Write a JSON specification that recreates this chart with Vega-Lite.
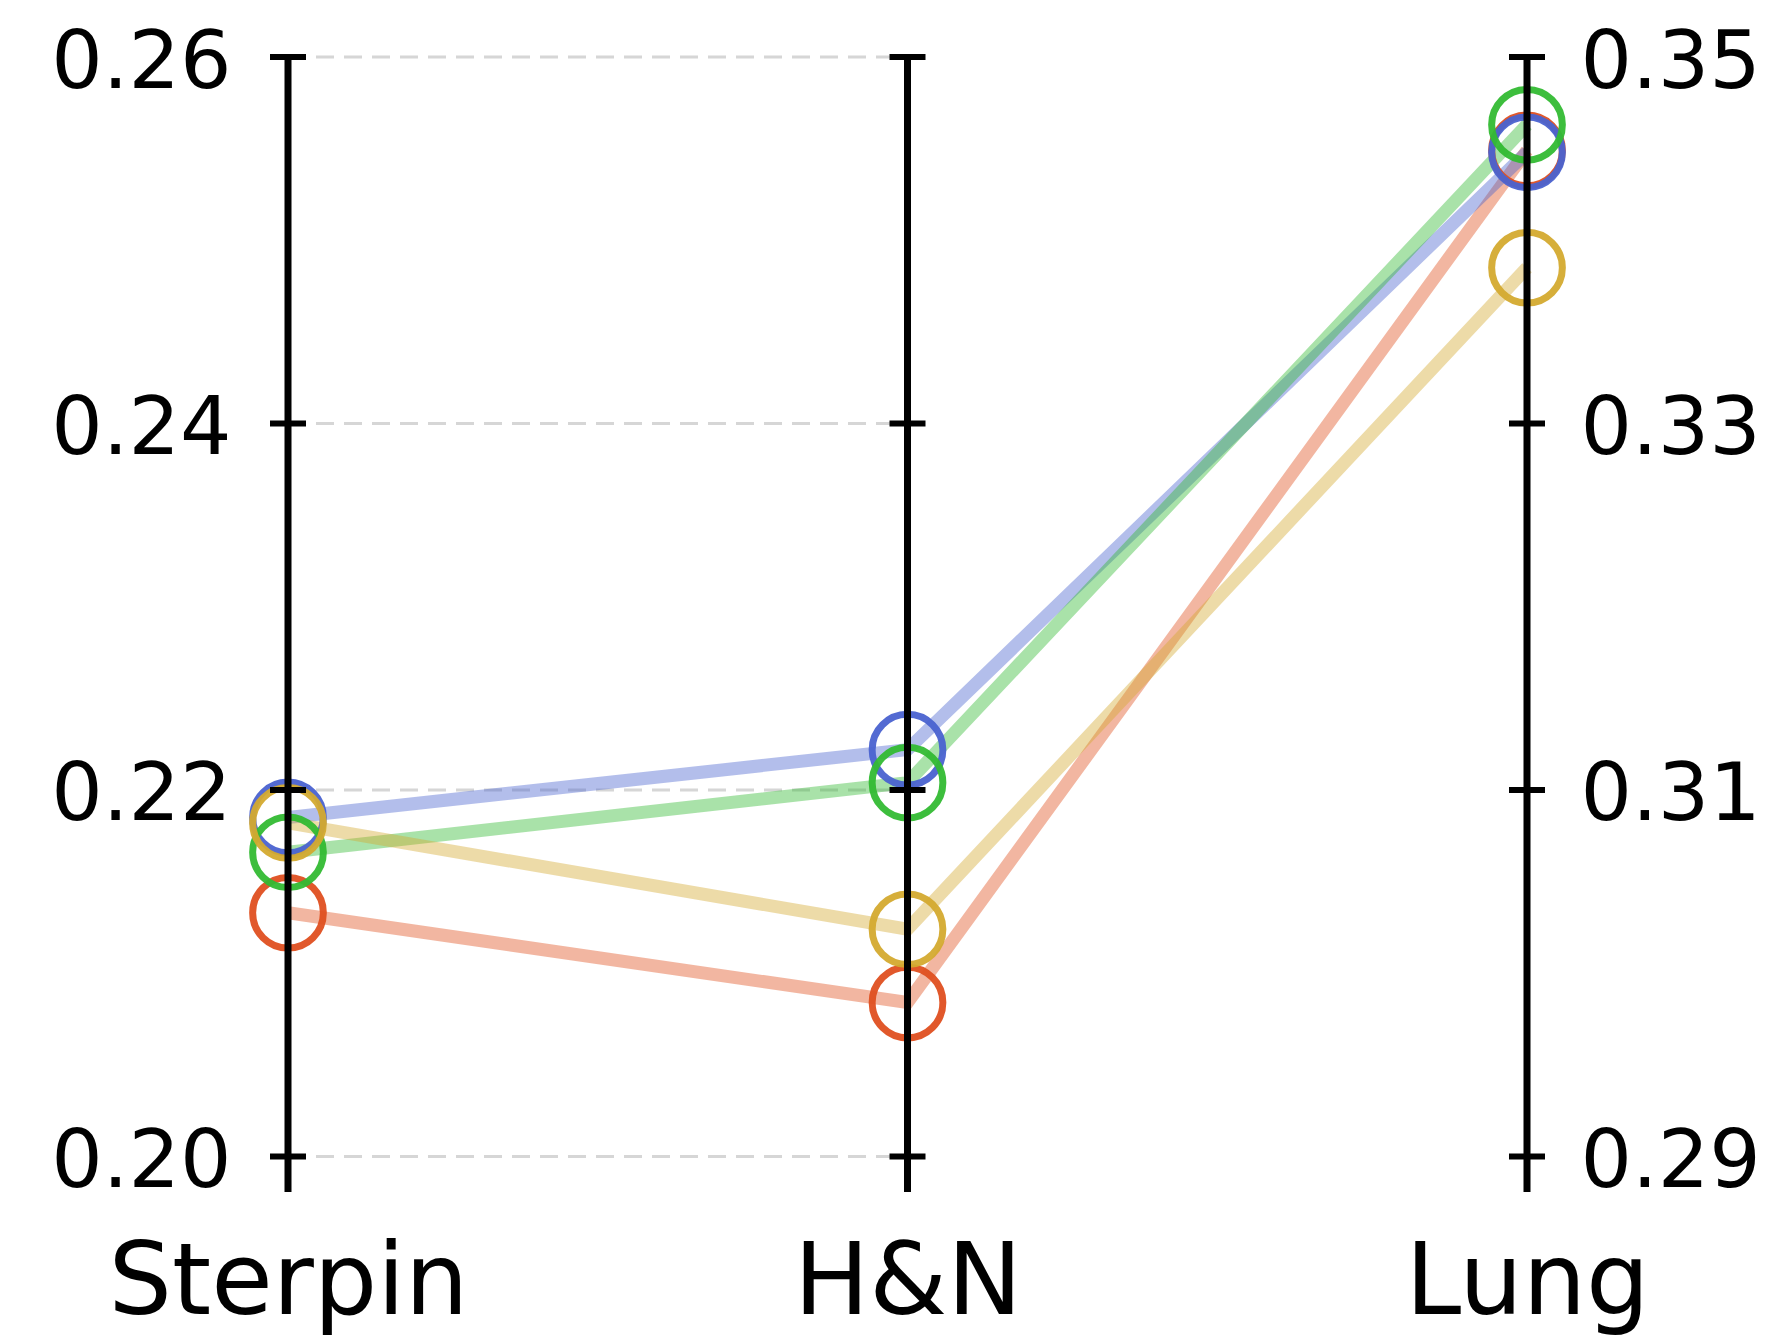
{
  "$schema": "https://vega.github.io/schema/vega-lite/v6.json",
  "width": 1239,
  "height": 1135,
  "autosize": "none",
  "padding": {"left": 288, "top": 57, "right": 245, "bottom": 147},
  "background": "white",
  "config": {"view": {"stroke": null}, "font": "DejaVu Sans"},
  "datasets": {
    "scores": [
      {"method": "M1", "axis": "Sterpin", "value": 0.2133},
      {"method": "M1", "axis": "H&N", "value": 0.2084},
      {"method": "M1", "axis": "Lung", "value": 0.3449},
      {"method": "M2", "axis": "Sterpin", "value": 0.2185},
      {"method": "M2", "axis": "H&N", "value": 0.2222},
      {"method": "M2", "axis": "Lung", "value": 0.3448},
      {"method": "M3", "axis": "Sterpin", "value": 0.2166},
      {"method": "M3", "axis": "H&N", "value": 0.2204},
      {"method": "M3", "axis": "Lung", "value": 0.3463},
      {"method": "M4", "axis": "Sterpin", "value": 0.2182},
      {"method": "M4", "axis": "H&N", "value": 0.2124},
      {"method": "M4", "axis": "Lung", "value": 0.3385}
    ],
    "ticks": [
      {"axis": "Sterpin", "value": 0.20}, {"axis": "Sterpin", "value": 0.22}, {"axis": "Sterpin", "value": 0.24}, {"axis": "Sterpin", "value": 0.26},
      {"axis": "H&N", "value": 0.20}, {"axis": "H&N", "value": 0.22}, {"axis": "H&N", "value": 0.24}, {"axis": "H&N", "value": 0.26},
      {"axis": "Lung", "value": 0.29}, {"axis": "Lung", "value": 0.31}, {"axis": "Lung", "value": 0.33}, {"axis": "Lung", "value": 0.35}
    ],
    "grid": [{"value": 0.20}, {"value": 0.22}, {"value": 0.24}, {"value": 0.26}],
    "axes": [{"axis": "Sterpin"}, {"axis": "H&N"}, {"axis": "Lung"}]
  },
  "resolve": {"axis": {"x": "independent", "y": "independent"}},
  "layer": [
    {
      "data": {"name": "grid"},
      "mark": {"type": "rule", "color": "#d6d6d6", "strokeWidth": 3, "strokeDash": [18, 10]},
      "encoding": {
        "x": {"datum": "Sterpin", "type": "ordinal", "scale": {"type": "point", "domain": ["Sterpin", "H&N", "Lung"], "padding": 0}, "axis": null},
        "x2": {"datum": "H&N"},
        "y": {"field": "value", "type": "quantitative", "scale": {"domain": [0.19806, 0.26], "nice": false, "zero": false}, "axis": null}
      }
    },
    {
      "data": {"name": "scores"},
      "transform": [{"calculate": "datum.axis === 'Lung' ? datum.value - 0.09 : datum.value", "as": "y"}],
      "mark": {"type": "line", "strokeWidth": 13, "opacity": 0.42},
      "encoding": {
        "x": {"field": "axis", "type": "ordinal", "scale": {"type": "point", "domain": ["Sterpin", "H&N", "Lung"], "padding": 0},
          "axis": {"orient": "bottom", "domain": false, "ticks": false, "grid": false, "labelFontSize": 100, "labelColor": "black", "labelPadding": 121, "labelBaseline": "alphabetic", "labelAngle": 0, "labelFlush": false, "labelLimit": 0, "labelOverlap": false, "title": null}},
        "y": {"field": "y", "type": "quantitative", "scale": {"domain": [0.19806, 0.26], "nice": false, "zero": false},
          "axis": {"orient": "left", "values": [0.2, 0.22, 0.24, 0.26], "format": ".2f", "domain": false, "ticks": false, "grid": false, "labelFontSize": 81, "labelColor": "black", "labelPadding": 57, "labelBaseline": "alphabetic", "labelOffset": 30, "labelFlush": false, "labelOverlap": false, "labelLimit": 0, "title": null}},
        "color": {"field": "method", "type": "nominal", "scale": {"domain": ["M1", "M2", "M3", "M4"], "range": ["#e05020", "#4a63d0", "#33bb33", "#d4aa30"]}, "legend": null},
        "order": {"value": null}
      }
    },
    {
      "data": {"name": "scores"},
      "transform": [{"calculate": "datum.axis === 'Lung' ? datum.value - 0.09 : datum.value", "as": "y"}],
      "mark": {"type": "point", "shape": "circle", "filled": false, "size": 5000, "strokeWidth": 7, "opacity": 0.95},
      "encoding": {
        "x": {"field": "axis", "type": "ordinal", "scale": {"type": "point", "domain": ["Sterpin", "H&N", "Lung"], "padding": 0}, "axis": null},
        "y": {"field": "y", "type": "quantitative", "scale": {"domain": [0.19806, 0.26], "nice": false, "zero": false}, "axis": null},
        "color": {"field": "method", "type": "nominal", "scale": {"domain": ["M1", "M2", "M3", "M4"], "range": ["#e05020", "#4a63d0", "#33bb33", "#d4aa30"]}, "legend": null}
      }
    },
    {
      "data": {"name": "axes"},
      "mark": {"type": "rule", "color": "black", "strokeWidth": 7},
      "encoding": {
        "x": {"field": "axis", "type": "ordinal", "scale": {"type": "point", "domain": ["Sterpin", "H&N", "Lung"], "padding": 0}, "axis": null},
        "y": {"datum": 0.19806, "type": "quantitative", "axis": null},
        "y2": {"datum": 0.26}
      }
    },
    {
      "data": {"name": "ticks"},
      "transform": [{"calculate": "datum.axis === 'Lung' ? datum.value - 0.09 : datum.value", "as": "y"}],
      "mark": {"type": "tick", "orient": "horizontal", "color": "black", "size": 36, "thickness": 6, "opacity": 1},
      "encoding": {
        "x": {"field": "axis", "type": "ordinal", "scale": {"type": "point", "domain": ["Sterpin", "H&N", "Lung"], "padding": 0}, "axis": null},
        "y": {"field": "y", "type": "quantitative", "scale": {"domain": [0.19806, 0.26], "nice": false, "zero": false},
          "axis": {"orient": "right", "values": [0.2, 0.22, 0.24, 0.26], "labelExpr": "format(datum.value + 0.09, '.2f')", "domain": false, "ticks": false, "grid": false, "labelFontSize": 81, "labelColor": "black", "labelPadding": 53, "labelBaseline": "alphabetic", "labelOffset": 30, "labelFlush": false, "labelOverlap": false, "labelLimit": 0, "title": null}}
      }
    }
  ]
}
